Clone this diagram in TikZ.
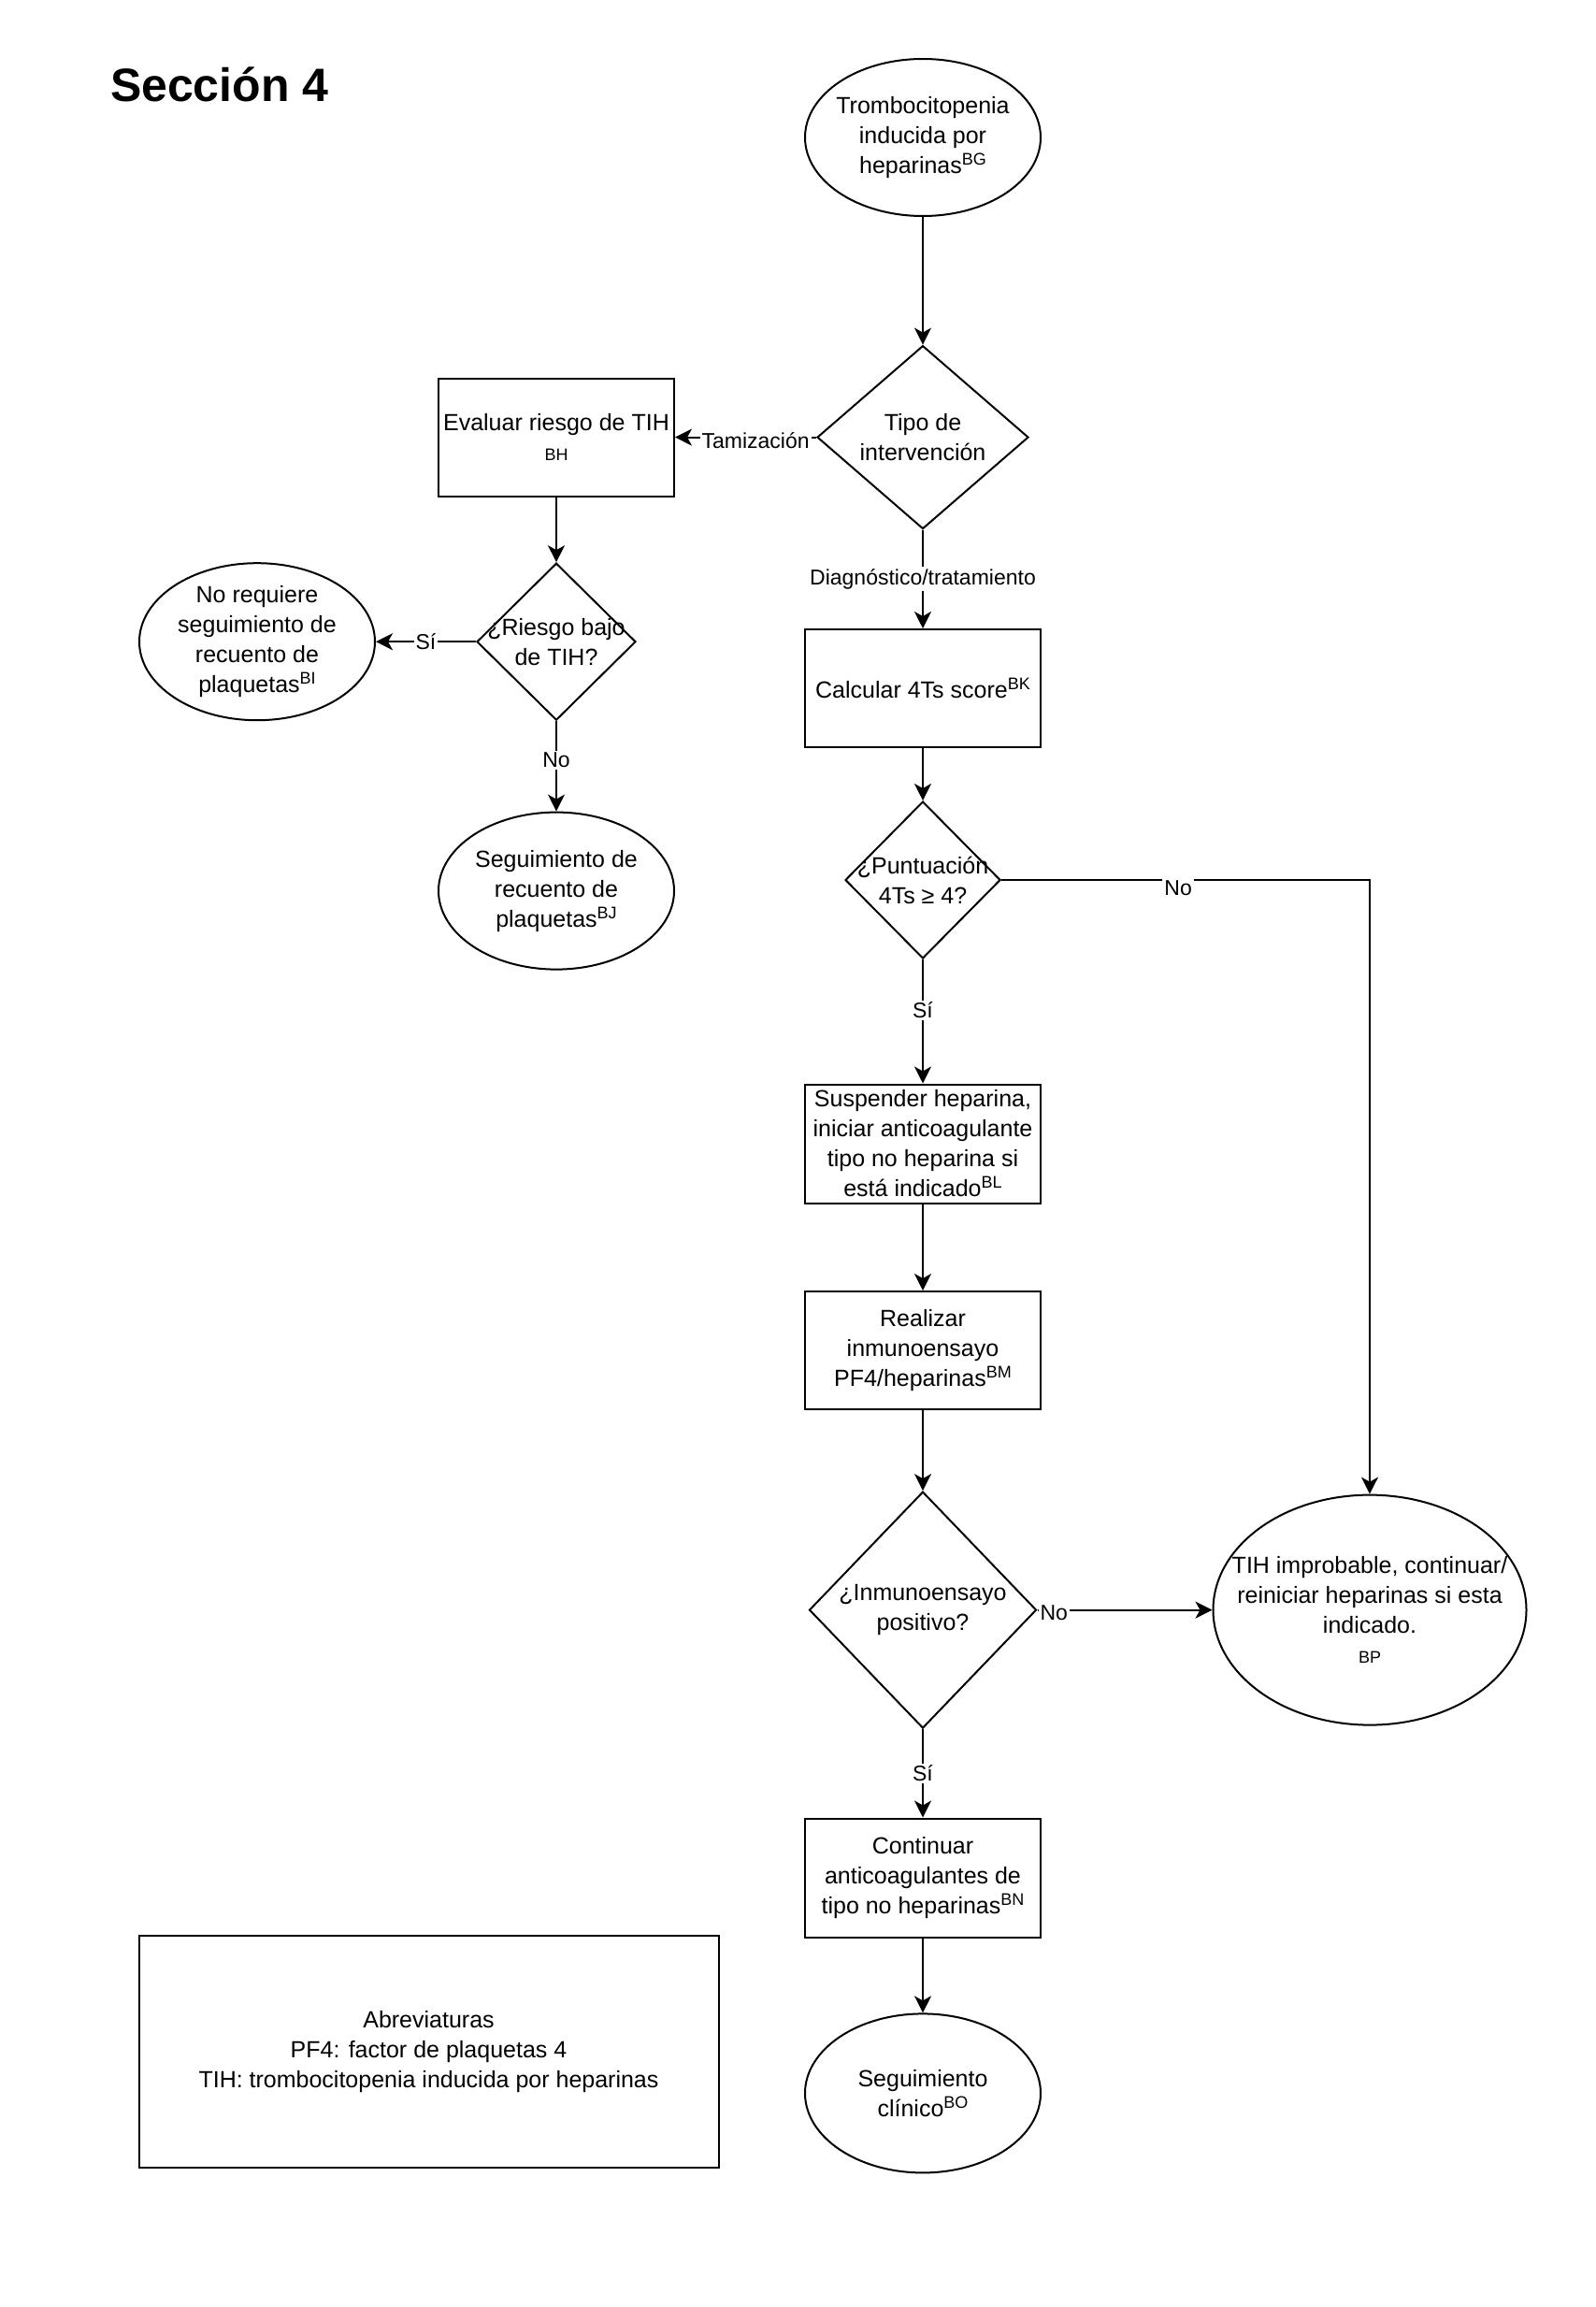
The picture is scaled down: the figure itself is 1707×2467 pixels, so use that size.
\documentclass[tikz,border=0pt]{standalone}
\usepackage{fontspec}
\setmainfont{Liberation Sans}
\usetikzlibrary{shapes.geometric,arrows.meta}
\newcommand{\sups}[1]{\raisebox{4.5pt}{\fontsize{9}{10}\selectfont #1}}

\begin{document}
\begin{tikzpicture}[x=0.5pt, y=-0.5pt, line width=1pt, >={Stealth[length=9pt,width=9pt,inset=2.5pt]},
every label/.style={align=center, font=\fontsize{12.5}{16}\selectfont},
main/.style = {draw, ellipse, minimum width=126pt, minimum height=84pt, inner sep=0pt},
box/.style = {draw, rectangle, minimum width=126pt, minimum height=63pt, inner sep=0pt, align=center, font=\fontsize{12.5}{16}\selectfont},
decision/.style = {draw, diamond, inner sep=0pt},
lbl/.style = {fill=white, inner sep=1pt, font=\fontsize{11.5}{14}\selectfont}]
\useasboundingbox (0,0) rectangle (1707,2467);
\node[anchor=west, inner sep=0pt, font=\fontsize{25}{30}\selectfont\bfseries] (t) at (117,90) {Sección 4};
\node[main, label=center:{Trombocitopenia\\inducida por\\heparinas\sups{BG}}] (0) at (987,147) {};
\node[decision, minimum width=113pt, minimum height=98pt, label=center:{Tipo de\\intervención}] (1) [below of=0, node distance=160.3pt] {};
\node[box] (2) [left of=1, node distance=196pt] {Evaluar riesgo de TIH\\{\fontsize{9}{11}\selectfont BH}};
\node[decision, minimum width=85pt, minimum height=84pt, label=center:{¿Riesgo bajo\\de TIH?}] (3) [below of=2, node distance=109.3pt] {};
\node[main, label=center:{No requiere\\seguimiento de\\recuento de\\plaquetas\sups{BI}}] (4) [left of=3, node distance=160pt] {};
\node[main, label=center:{Seguimiento de\\recuento de\\plaquetas\sups{BJ}}] (5) [below of=3, node distance=133.2pt] {};
\node[box] (6) [below of=1, node distance=134.2pt] {Calcular 4Ts score\sups{BK}};
\node[decision, minimum width=83pt, minimum height=84pt, label=center:{¿Puntuación\\4Ts ≥ 4?}] (7) [below of=6, node distance=102.5pt] {};
\node[box, minimum height=63.5pt] (8) [below of=7, node distance=141pt] {Suspender heparina,\\iniciar anticoagulante\\tipo no heparina si\\está indicado\sups{BL}};
\node[box] (9) [below of=8, node distance=110.5pt] {Realizar\\inmunoensayo\\PF4/heparinas\sups{BM}};
\node[decision, minimum width=121.5pt, minimum height=126.5pt, label=center:{¿Inmunoensayo\\positivo?}] (10) [below of=9, node distance=138.8pt] {};
\node[main, minimum width=167.5pt, minimum height=123pt, label=center:{TIH improbable, continuar/\\reiniciar heparinas si esta\\indicado.\\{\fontsize{9}{11}\selectfont BP}}] (11) [right of=10, node distance=239pt] {};
\node[box, minimum height=63.5pt] (12) [below of=10, node distance=143.2pt] {Continuar\\anticoagulantes de\\tipo no heparinas\sups{BN}};
\node[main, minimum height=85pt, label=center:{Seguimiento\\clínico\sups{BO}}] (13) [below of=12, node distance=115.2pt] {};
\node[box, minimum width=310pt, minimum height=124pt] (14) [left of=13, node distance=264.25pt, yshift=22.25pt] {Abreviaturas\\PF4: factor de plaquetas 4\\TIH: trombocitopenia inducida por heparinas};
\draw[->] (0) -- (1);
\draw[->] (1) -- node[lbl, pos=0.43, yshift=-1.75pt] {Tamización} (2);
\draw[->] (1) -- node[lbl] {Diagnóstico/tratamiento} (6);
\draw[->] (2) -- (3);
\draw[->] (3) -- node[lbl] {Sí} (4);
\draw[->] (3) -- node[lbl, pos=0.43] {No} (5);
\draw[->] (6) -- (7);
\draw[->] (7) -| node[lbl, pos=0.24, anchor=north, yshift=1pt] {No} (11);
\draw[->] (7) -- node[lbl, pos=0.41] {Sí} (8);
\draw[->] (8) -- (9);
\draw[->] (9) -- (10);
\draw[->] (10) -- node[lbl, pos=0, anchor=west, yshift=-1.5pt] {No} (11);
\draw[->] (10) -- node[lbl] {Sí} (12);
\draw[->] (12) -- (13);
\end{tikzpicture}
\end{document}
